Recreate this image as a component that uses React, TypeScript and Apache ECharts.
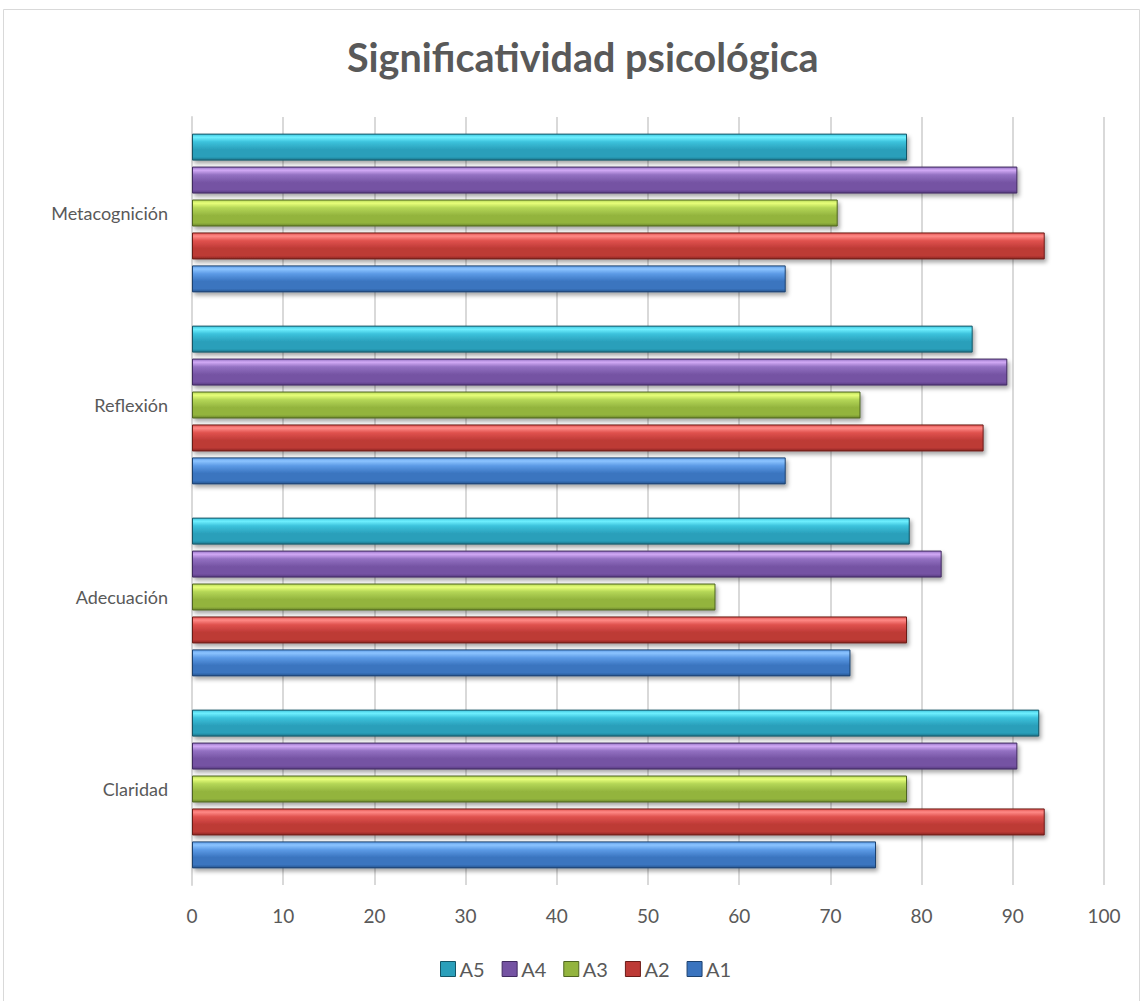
import React, { useEffect, useRef } from "react";
import * as echarts from "echarts";

const categories = ["Claridad", "Adecuación", "Reflexión", "Metacognición"];
const seriesNames = ["A5", "A4", "A3", "A2", "A1"];
const a1 = [75.0, 72.2, 65.1, 65.1];
const a2 = [93.5, 78.4, 86.8, 93.5];
const a3 = [78.4, 57.4, 73.3, 70.8];
const a4 = [90.5, 82.2, 89.4, 90.5];
const a5 = [92.9, 78.7, 85.6, 78.4];
const xTicks = [0, 10, 20, 30, 40, 50, 60, 70, 80, 90, 100];
const legendOrder = ["A5", "A4", "A3", "A2", "A1"];

const palettes: Record<string, { light: string; top: string; mid: string; dark: string; border: string; legend: string }> = {
  A1: { light: "#8cc4ff", top: "#5d9be6", mid: "#3a74bf", dark: "#25558f", border: "#1d426f", legend: "#3a74bf" },
  A2: { light: "#ff8a87", top: "#e0524e", mid: "#bd3a36", dark: "#8a2622", border: "#6b1b18", legend: "#bd3a36" },
  A3: { light: "#e8ff7a", top: "#b4d657", mid: "#93b43e", dark: "#6b862a", border: "#4f6520", legend: "#93b43e" },
  A4: { light: "#d2aaf6", top: "#9371c2", mid: "#7553a3", dark: "#56397f", border: "#402a60", legend: "#7553a3" },
  A5: { light: "#6ff0ff", top: "#3cc2dc", mid: "#2a9fba", dark: "#1c7389", border: "#145566", legend: "#2a9fba" },
};

const dataMap: Record<string, number[]> = { A1: a1, A2: a2, A3: a3, A4: a4, A5: a5 };

function gradient(name: string) {
  const p = palettes[name];
  return new echarts.graphic.LinearGradient(0, 0, 0, 1, [
    { offset: 0, color: p.top },
    { offset: 0.12, color: p.light },
    { offset: 0.3, color: p.top },
    { offset: 0.6, color: p.mid },
    { offset: 0.88, color: p.mid },
    { offset: 1, color: p.dark },
  ]);
}

export default function App() {
  const ref = useRef<HTMLDivElement>(null);
  useEffect(() => {
    if (!ref.current) return;
    const chart = echarts.init(ref.current, null, { renderer: "svg" });
    const font = "Lato, 'Open Sans', sans-serif";
    chart.setOption({
      animation: false,
      backgroundColor: "#ffffff",
      textStyle: { fontFamily: font },
      title: {
        text: "Significatividad psicológica",
        left: 342,
        top: 31,
        textStyle: { fontSize: 39.5, fontWeight: "bold", color: "#595959", fontFamily: font },
      },
      graphic: [
        {
          type: "rect",
          shape: { x: 3.5, y: 9.5, width: 1136, height: 1000 },
          style: { fill: "none", stroke: "#d9d9d9", lineWidth: 1 },
          silent: true,
          z: -10,
        },
      ],
      legend: {
        data: legendOrder.map((n) => ({ name: n, itemStyle: { color: palettes[n].legend, borderColor: palettes[n].border, borderWidth: 1 } })),
        bottom: 17,
        left: 435,
        icon: "rect",
        itemWidth: 15,
        itemHeight: 15,
        itemGap: 17,
        textStyle: { fontSize: 20, color: "#595959", padding: [0, 0, 0, -1] },
      },
      grid: { left: 192, right: 39, top: 117, bottom: 116 },
      xAxis: {
        type: "value",
        min: xTicks[0],
        max: xTicks[xTicks.length - 1],
        interval: 10,
        axisLine: { show: false },
        axisTick: { show: false },
        axisLabel: { fontSize: 19, color: "#595959", margin: 21 },
        splitLine: { show: true, lineStyle: { color: "#d9d9d9", width: 2 } },
      },
      yAxis: {
        type: "category",
        data: categories,
        axisLine: { show: true, lineStyle: { color: "#d9d9d9", width: 2 } },
        axisTick: { show: false },
        axisLabel: { fontSize: 18, color: "#595959", margin: 24 },
        splitLine: { show: false },
      },
      series: seriesNames.map((n) => ({
        name: n,
        type: "bar",
        data: dataMap[n],
        barWidth: 27,
        barGap: "22%",
        itemStyle: {
          color: gradient(n),
          borderColor: palettes[n].border,
          borderWidth: 1,
          shadowColor: "rgba(0,0,0,0.35)",
          shadowBlur: 4,
          shadowOffsetX: 2,
          shadowOffsetY: 3,
        },
      })),
    });
    return () => chart.dispose();
  }, []);
  return (
    <div
      ref={ref}
      style={{ position: "fixed", left: 0, top: 0, width: 1143, height: 1001 }}
    />
  );
}
